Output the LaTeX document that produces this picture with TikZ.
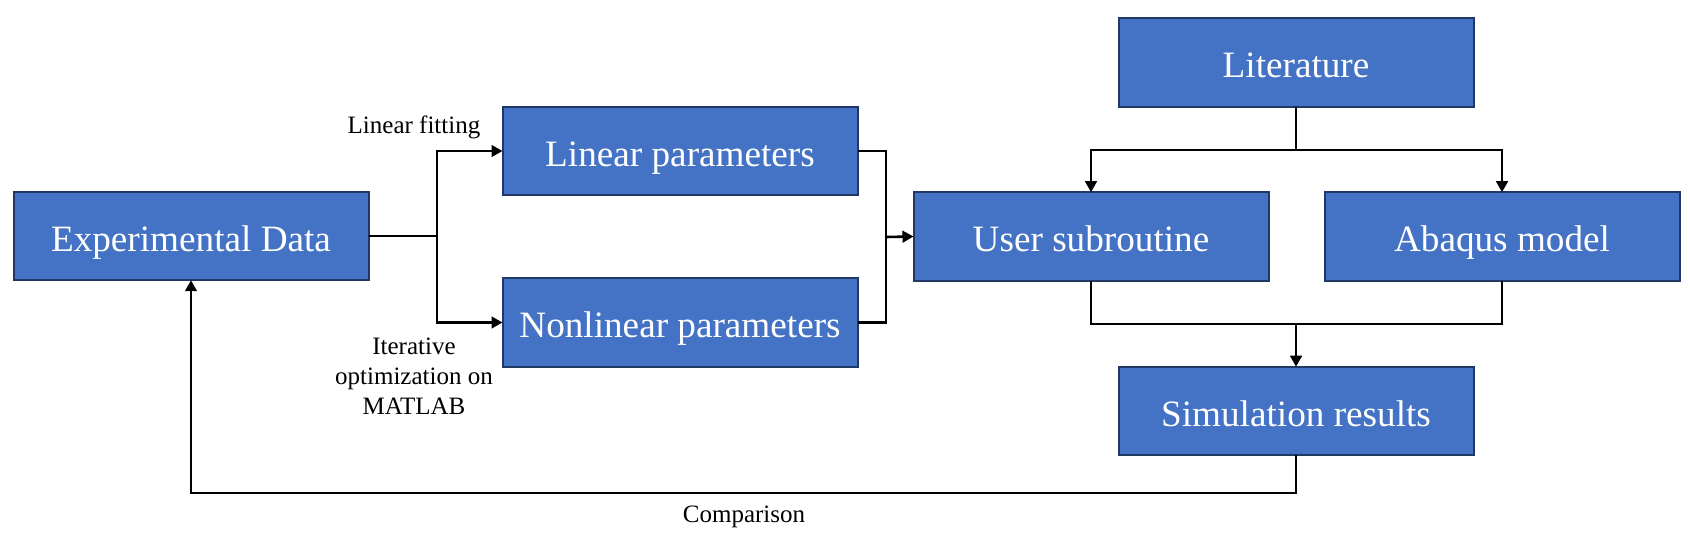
\documentclass[tikz,border=0pt]{standalone}
\usepackage{fontspec}
\setmainfont{Liberation Serif}
\usetikzlibrary{arrows.meta}
\definecolor{boxfill}{HTML}{4472C4}
\definecolor{boxline}{HTML}{1F3864}
\begin{document}
\begin{tikzpicture}[x=0.5pt,y=-0.5pt,
  box/.style={draw=boxline,fill=boxfill,line width=1pt,minimum width=177.5pt,minimum height=44.25pt,inner sep=0pt,outer sep=0pt,text=white,text height=15.2pt,text depth=0pt,font=\fontsize{18.6pt}{22pt}\selectfont},
  conn/.style={draw=black,line width=1.3pt},
  arr/.style={conn,-{Triangle[length=5.5pt,width=5.8pt]}},
  lbl/.style={font=\fontsize{12.5pt}{15pt}\selectfont,align=center,inner sep=0pt}]
\useasboundingbox (0,0) rectangle (1690,544);
\node[box] (exp) at (191,236) {Experimental Data};
\node[box] (lin) at (680,151) {Linear parameters};
\node[box] (nonlin) at (680,322.5) {Nonlinear parameters};
\node[box] (lit) at (1296,62.5) {Literature};
\node[box] (user) at (1091,236.5) {User subroutine};
\node[box] (abaqus) at (1502,236.5) {Abaqus model};
\node[box] (sim) at (1296,411) {Simulation results};

\coordinate (s1) at (437,236);
\coordinate (m1) at (886,237);
\coordinate (s2) at (1296,150);
\coordinate (m2) at (1296,324);
\coordinate (c1) at (191,493);

\draw[conn] (exp.east) -- (s1);
\draw[arr] (s1) |- (lin.west);
\draw[arr] (s1) |- (nonlin.west);
\draw[conn] (lin.east) -| (m1);
\draw[conn] (nonlin.east) -| (m1);
\draw[arr] (m1) -- (user.west);
\draw[conn] (lit.south) -- (s2);
\draw[arr] (s2) -| (user.north);
\draw[arr] (s2) -| (abaqus.north);
\draw[conn] (user.south) |- (m2);
\draw[conn] (abaqus.south) |- (m2);
\draw[arr] (m2) -- (sim.north);
\draw[arr] (sim.south) |- (c1) -- (exp.south);

\node[lbl] (lf) at (414,127) {Linear fitting};
\node[lbl] (io) at (414,376) {Iterative\\optimization on\\MATLAB};
\node[lbl] (cmp) at (744,517) {Comparison};
\end{tikzpicture}
\end{document}
